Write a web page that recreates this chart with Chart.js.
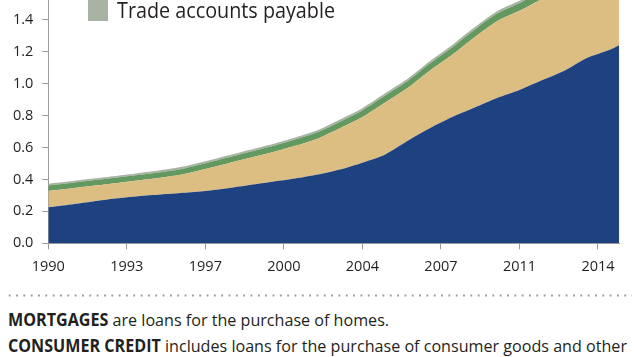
<!DOCTYPE html>
<html>
<head>
<meta charset="utf-8">
<script src="https://cdn.jsdelivr.net/npm/chart.js@4/dist/chart.umd.min.js"></script>
<style>
  html, body { margin: 0; padding: 0; background: #fff; }
  body { width: 635px; height: 357px; position: relative; overflow: hidden; font-family: "Open Sans", "Noto Sans", sans-serif; color: #231f20; }
  #chart { position: absolute; left: 0; top: -30px; }
  .swatch { position: absolute; left: 88px; top: -3px; width: 20px; height: 24px; background: #a9b3a3; }
  .legend { position: absolute; left: 117px; top: 0; font-size: 21px; line-height: 1; white-space: nowrap; transform-origin: 0 0; }
  .dots { position: absolute; left: 6px; top: 294px; width: 626px; height: 3px;
          background: radial-gradient(circle, #9a9a9a 0.9px, transparent 1.3px) repeat-x;
          background-size: 7.33px 3px; }
  .note { position: absolute; left: 8px; font-size: 17px; line-height: 1; white-space: nowrap; transform-origin: 0 0; }
  .note b { font-weight: 700; }
</style>
</head>
<body>
<canvas id="chart" width="635" height="310"></canvas>
<div class="swatch"></div>
<div class="legend" id="leg">Trade accounts payable</div>
<div class="dots"></div>
<div class="note" id="n1" style="top:310.6px"><b>MORTGAGES</b> are loans for the purchase of homes.</div>
<div class="note" id="n2" style="top:336.6px"><b>CONSUMER CREDIT</b> includes loans for the purchase of consumer goods and other</div>
<script>
// values in trillions
const years = [1990, 1991, 1992, 1993, 1994, 1995, 1996, 1997, 1998, 1999, 2000, 2001, 2002,
  2003, 2004, 2005, 2006, 2007, 2008, 2009, 2010, 2011, 2012, 2013, 2014, 2015, 2015.45];
const mortgages = [0.225, 0.243, 0.262, 0.280, 0.294, 0.305, 0.316, 0.328, 0.345, 0.365, 0.385, 0.405, 0.430,
  0.462, 0.505, 0.555, 0.640, 0.720, 0.790, 0.850, 0.910, 0.960, 1.020, 1.080, 1.160, 1.210, 1.240];
const consumerCredit = [0.103, 0.100, 0.098, 0.096, 0.099, 0.105, 0.116, 0.137, 0.155, 0.170, 0.185, 0.205, 0.225,
  0.258, 0.285, 0.325, 0.330, 0.360, 0.390, 0.440, 0.480, 0.495, 0.510, 0.520, 0.510, 0.520, 0.520];
const otherLoans = [0.034, 0.034, 0.034, 0.034, 0.034, 0.035, 0.035, 0.036, 0.037, 0.038, 0.039, 0.040, 0.040,
  0.041, 0.042, 0.043, 0.044, 0.045, 0.046, 0.047, 0.048, 0.048, 0.049, 0.049, 0.050, 0.050, 0.050];
const tradePayable = [0.012, 0.012, 0.012, 0.012, 0.012, 0.012, 0.013, 0.013, 0.013, 0.013, 0.013, 0.013, 0.013,
  0.014, 0.014, 0.014, 0.014, 0.014, 0.015, 0.015, 0.015, 0.015, 0.015, 0.015, 0.016, 0.016, 0.016];

const xTickValues = [1990, 1993.5, 1997, 2000.5, 2004, 2007.5, 2011, 2014.5];
const xTickLabels = ['1990', '1993', '1997', '2000', '2004', '2007', '2011', '2014'];

const pts = arr => years.map((x, i) => ({ x: x, y: arr[i] }));
const tickFont = { family: '"Open Sans", "Noto Sans", sans-serif', size: 14.5 };

function layer(label, data, color, fill) {
  return {
    label: label,
    data: pts(data),
    backgroundColor: color,
    borderWidth: 0,
    pointRadius: 0,
    tension: 0.25,
    fill: fill
  };
}

new Chart(document.getElementById('chart'), {
  type: 'line',
  data: {
    datasets: [
      layer('Mortgages', mortgages, '#1e4280', 'origin'),
      layer('Consumer credit', consumerCredit, '#dcbe82', '-1'),
      layer('Other loans', otherLoans, '#649861', '-1'),
      layer('Trade accounts payable', tradePayable, '#a9b3a3', '-1')
    ]
  },
  options: {
    responsive: false,
    animation: false,
    layout: { padding: { top: 9.8, right: 15.7, left: 0, bottom: 0 } },
    plugins: { legend: { display: false }, tooltip: { enabled: false } },
    scales: {
      x: {
        type: 'linear',
        min: 1990,
        max: 2015.45,
        afterFit: s => { s.height = 36.7; },
        afterBuildTicks: s => { s.ticks = xTickValues.map(v => ({ value: v })); },
        ticks: {
          color: '#231f20',
          font: tickFont,
          padding: 9,
          maxRotation: 0,
          autoSkip: false,
          callback: (v, i) => xTickLabels[i]
        },
        grid: { drawOnChartArea: false, drawTicks: true, tickLength: 6, color: '#9a9a9a' },
        border: { display: true, color: '#9a9a9a', width: 1 }
      },
      y: {
        stacked: true,
        min: 0,
        max: 1.6,
        afterFit: s => { s.width = 48.3; },
        ticks: {
          stepSize: 0.2,
          color: '#231f20',
          font: tickFont,
          padding: 9,
          callback: v => v.toFixed(1)
        },
        grid: { drawOnChartArea: false, drawTicks: true, tickLength: 6, color: '#9a9a9a' },
        border: { display: true, color: '#9a9a9a', width: 1 }
      }
    }
  }
});

// the original uses a condensed face: squeeze text horizontally
const n2 = document.getElementById('n2');
const k = 619 / n2.getBoundingClientRect().width;
document.querySelectorAll('.note').forEach(el => { el.style.transform = 'scaleX(' + k + ')'; });
const leg = document.getElementById('leg');
leg.style.transform = 'scaleX(' + (218 / leg.getBoundingClientRect().width) + ')';
</script>
</body>
</html>
